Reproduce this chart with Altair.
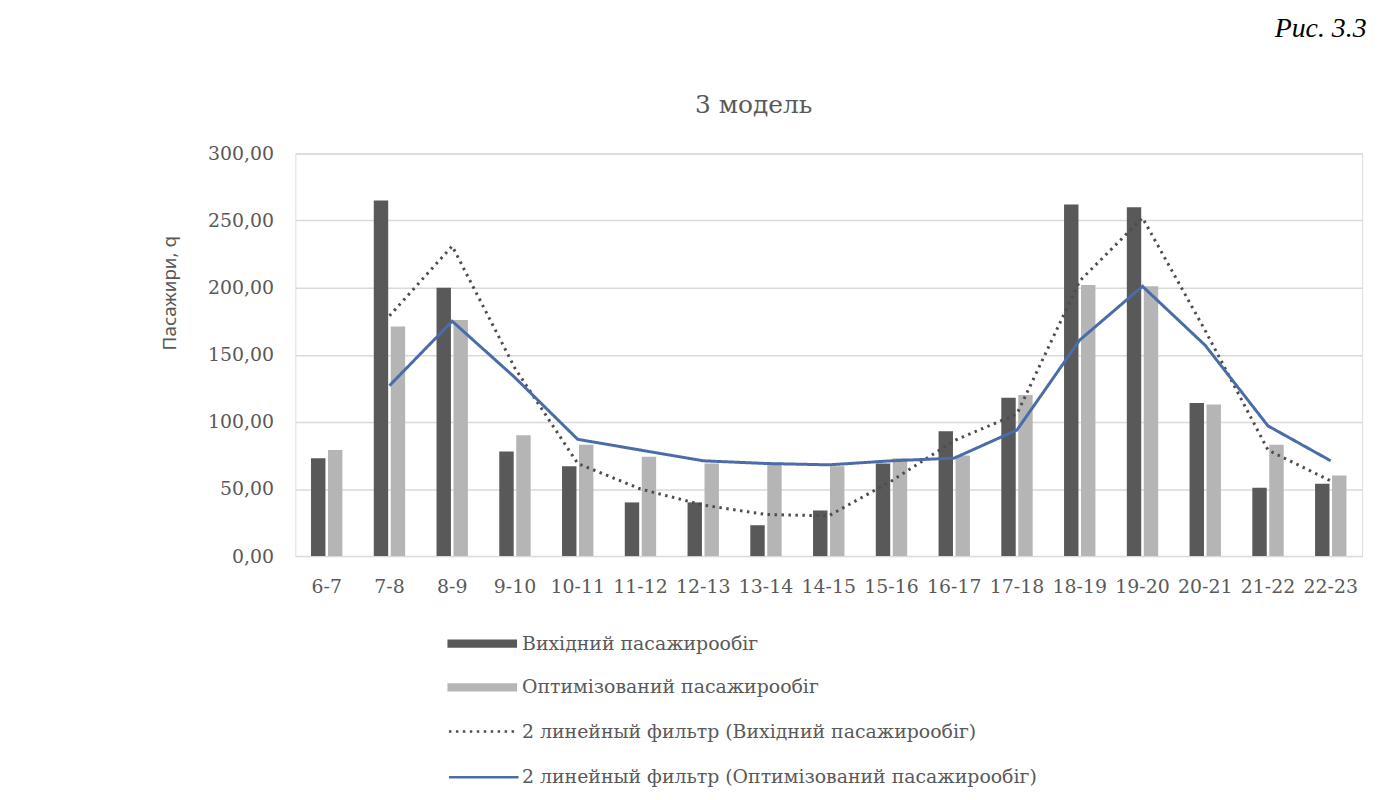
import altair as alt
import pandas as pd

categories = ["6-7", "7-8", "8-9", "9-10", "10-11", "11-12", "12-13", "13-14", "14-15",
              "15-16", "16-17", "17-18", "18-19", "19-20", "20-21", "21-22", "22-23"]
original = [73, 265, 200, 78, 67, 40, 40, 23, 34, 69, 93, 118, 262, 260, 114, 51, 54]
optimized = [79, 171, 176, 90, 83, 74, 69, 68, 67, 73, 75, 120, 202, 201, 113, 83, 60]

ma_categories = categories[1:]
ma_original = [179, 231, 140, 69, 50, 38, 31, 30, 56, 86, 106, 205, 252, 168, 79, 56]
ma_optimized = [127, 175, 133, 87, 79, 71, 69, 68, 71, 73, 94, 161, 201, 157, 97, 71]

bar_names = ["Вихідний пасажирообіг", "Оптимізований пасажирообіг"]
line_names = ["2 линейный фильтр (Вихідний пасажирообіг)",
              "2 линейный фильтр (Оптимізований пасажирообіг)"]
y_ticks = [0, 50, 100, 150, 200, 250, 300]
chart_title = ["3 модель"]
figure_label = ["Рис. 3.3"]

bar_colors = ["#595959", "#b5b5b5"]
line_colors = ["#4d4d4d", "#4a6ca8"]
line_dashes = [[2.5, 4.5], [1, 0]]

SERIF = "DejaVu Serif"
SANS = "Noto Sans"
GREY = "#595959"

bar_rows = []
for c, a, b in zip(categories, original, optimized):
    bar_rows.append({"cat": c, "value": a, "bar_series": bar_names[0]})
    bar_rows.append({"cat": c, "value": b, "bar_series": bar_names[1]})
bars_df = pd.DataFrame(bar_rows)

line_rows = []
for c, a, b in zip(ma_categories, ma_original, ma_optimized):
    line_rows.append({"cat": c, "value": a, "line_series": line_names[0]})
    line_rows.append({"cat": c, "value": b, "line_series": line_names[1]})
lines_df = pd.DataFrame(line_rows)

x_enc = alt.X(
    "cat:N", sort=categories,
    scale=alt.Scale(paddingInner=0.5, paddingOuter=0.25),
    axis=alt.Axis(title=None, labelAngle=0, ticks=False, domain=False, grid=False,
                  labelPadding=22, labelFont=SERIF, labelFontSize=19, labelColor=GREY),
)
y_enc = alt.Y(
    "value:Q",
    scale=alt.Scale(domain=[0, 300], nice=False),
    axis=alt.Axis(values=y_ticks,
                  labelExpr="replace(format(datum.value, '.2f'), '.', ',')",
                  title="Пасажири, q", titleFont=SANS, titleFontSize=19,
                  titleFontWeight="normal", titleColor=GREY,
                  titleX=-127, titleY=140, titleAngle=-90,
                  titleAlign="center", titleBaseline="middle",
                  ticks=False, domain=False, labelPadding=22,
                  labelFont=SERIF, labelFontSize=19, labelColor=GREY,
                  grid=True, gridColor="#dadada", gridWidth=1.5),
)

bars = alt.Chart(bars_df).mark_bar().encode(
    x=x_enc,
    y=y_enc,
    xOffset=alt.XOffset("bar_series:N", sort=bar_names,
                        scale=alt.Scale(paddingInner=0.15, paddingOuter=0)),
    fill=alt.Fill("bar_series:N",
                  scale=alt.Scale(domain=bar_names, range=bar_colors),
                  legend=alt.Legend(title=None, orient="none", legendX=153, legendY=483,
                                    symbolType="M-3.5,-0.42H3.5V0.42H-3.5Z", symbolSize=400,
                                    symbolOffset=25, symbolStrokeWidth=0,
                                    labelFont=SERIF, labelFontSize=19, labelColor=GREY,
                                    labelOffset=30, labelLimit=600, rowPadding=24)),
)

lines = alt.Chart(lines_df).mark_line(strokeWidth=3).encode(
    x=alt.X("cat:N", sort=categories),
    y=alt.Y("value:Q"),
    stroke=alt.Stroke("line_series:N",
                      scale=alt.Scale(domain=line_names, range=line_colors),
                      legend=alt.Legend(title=None, orient="none", legendX=153, legendY=570,
                                        symbolType="M-3.5,0H3.5", symbolSize=400,
                                        symbolOffset=25, symbolStrokeWidth=2.5,
                                        labelFont=SERIF, labelFontSize=19, labelColor=GREY,
                                        labelOffset=27, labelLimit=600, rowPadding=24)),
    strokeDash=alt.StrokeDash("line_series:N",
                              scale=alt.Scale(domain=line_names, range=line_dashes),
                              legend=None),
)

title_mark = alt.Chart(pd.DataFrame({"t": chart_title})).mark_text(
    font=SERIF, fontSize=25, color=GREY, align="center", baseline="alphabetic",
).encode(text="t:N", x=alt.value(461), y=alt.value(-41))

fig_label = alt.Chart(pd.DataFrame({"t": figure_label})).mark_text(
    font="Liberation Serif", fontStyle="italic", fontSize=28, color="black",
    align="left", baseline="alphabetic",
).encode(text="t:N", x=alt.value(985), y=alt.value(-117))

chart = alt.layer(bars, lines, title_mark, fig_label).properties(
    width=1073, height=405,
    autosize=alt.AutoSizeParams(type="none"),
    padding={"left": 289, "top": 144, "right": 24, "bottom": 240},
).configure_view(stroke=None).configure(background="white")

chart.save("out.html", embed_options={"renderer": "svg", "actions": False})
